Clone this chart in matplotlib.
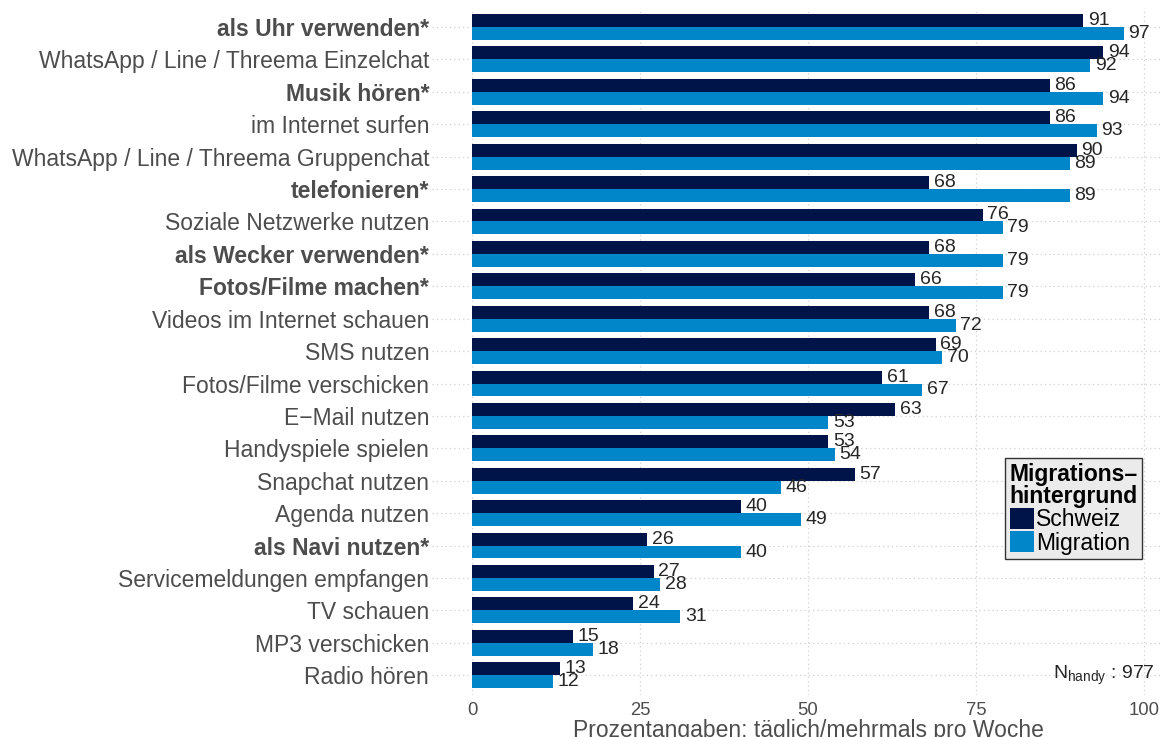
import matplotlib
matplotlib.use("Agg")
import matplotlib.pyplot as plt
from matplotlib.patches import Patch
import numpy as np

categories = [
    "als Uhr verwenden*",
    "WhatsApp / Line / Threema Einzelchat",
    "Musik hören*",
    "im Internet surfen",
    "WhatsApp / Line / Threema Gruppenchat",
    "telefonieren*",
    "Soziale Netzwerke nutzen",
    "als Wecker verwenden*",
    "Fotos/Filme machen*",
    "Videos im Internet schauen",
    "SMS nutzen",
    "Fotos/Filme verschicken",
    "E\u2212Mail nutzen",
    "Handyspiele spielen",
    "Snapchat nutzen",
    "Agenda nutzen",
    "als Navi nutzen*",
    "Servicemeldungen empfangen",
    "TV schauen",
    "MP3 verschicken",
    "Radio hören",
]
schweiz = [91, 94, 86, 86, 90, 68, 76, 68, 66, 68, 69, 61, 63, 53, 57, 40, 26, 27, 24, 15, 13]
migration = [97, 92, 94, 93, 89, 89, 79, 79, 79, 72, 70, 67, 53, 54, 46, 49, 40, 28, 31, 18, 12]
series_names = ["Schweiz", "Migration"]
colors = ["#00144A", "#0086C9"]
x_ticks = [0, 25, 50, 75, 100]
n_handy = 977

plt.rcParams["font.family"] = ["Liberation Sans", "DejaVu Sans"]

W, H = 1163, 737
fig = plt.figure(figsize=(W / 100, H / 100), dpi=100)
left_px, right_px, top_px, bottom_px = 432, 1184, 7.6, 694.6
ax = fig.add_axes([left_px / W, 1 - bottom_px / H,
                   (right_px - left_px) / W, (bottom_px - top_px) / H])

n = len(categories)
pos = np.arange(n)[::-1].astype(float)
bh = 0.4

ax.barh(pos + bh / 2, schweiz, height=bh, color=colors[0], zorder=2)
ax.barh(pos - bh / 2, migration, height=bh, color=colors[1], zorder=2)

label_color = "#262626"
for p, v in zip(pos, schweiz):
    ax.text(v + 0.7, p + bh / 2, str(v), va="center", ha="left",
            fontsize=14, color=label_color, zorder=3)
for p, v in zip(pos, migration):
    ax.text(v + 0.7, p - bh / 2, str(v), va="center", ha="left",
            fontsize=14, color=label_color, zorder=3)

ax.set_xlim(-6, 106)
ax.set_ylim(-0.6, n - 0.4)

ax.set_xticks(x_ticks)
ax.set_xticklabels([str(t) for t in x_ticks])
ax.set_yticks(pos)
ax.set_yticklabels(categories)
for lbl in ax.get_yticklabels():
    if lbl.get_text().endswith("*"):
        lbl.set_fontweight("bold")

ax.tick_params(axis="both", length=0, colors="#4D4D4D")
ax.tick_params(axis="y", labelsize=16.5, pad=2)
ax.tick_params(axis="x", labelsize=13.3, pad=5)

ax.grid(True, which="major", color="#D0D0D0", linestyle=(0, (1, 2.5)), linewidth=0.9, zorder=0)
for s in ax.spines.values():
    s.set_visible(False)

ax.set_xlabel("Prozentangaben: täglich/mehrmals pro Woche", fontsize=16.5,
              color="#4D4D4D", labelpad=0)

ax.text(101.6, pos[-1], r"$\mathregular{N_{handy}}$ : " + str(n_handy),
        ha="right", va="center", fontsize=14, color=label_color, zorder=3)

handles = [Patch(facecolor=c, edgecolor="none") for c in colors]
leg = ax.legend(handles, series_names, title="Migrations\u2013\nhintergrund",
                loc="upper left", bbox_to_anchor=(1005 / W, 1 - 458 / H),
                bbox_transform=fig.transFigure, fontsize=16.5,
                title_fontproperties={"weight": "bold", "size": 16.5},
                frameon=True, fancybox=False, framealpha=1,
                edgecolor="#333333", facecolor="#EBEBEB",
                handlelength=1.05, handleheight=1.05, handletextpad=0.1,
                labelspacing=0.0, borderpad=0.2, borderaxespad=0,
                alignment="left")
leg.get_title().set_linespacing(0.95)
leg.get_frame().set_linewidth(1.0)
leg.set_zorder(5)

fig.savefig("out.png", dpi=100)
